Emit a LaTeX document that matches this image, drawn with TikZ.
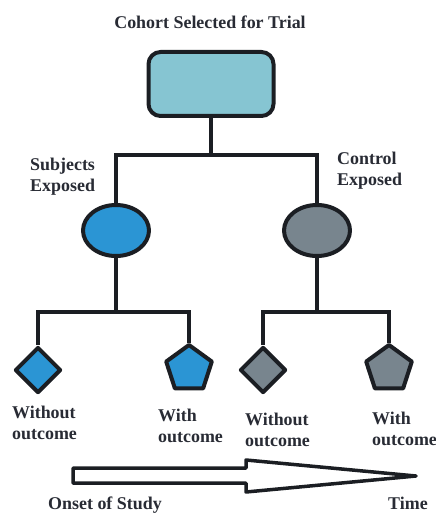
\documentclass[tikz,border=0pt]{standalone}
\usepackage{fontspec}
\setmainfont{Liberation Serif}
\usetikzlibrary{shapes.geometric}

\definecolor{ink}{RGB}{27,30,35}
\definecolor{txt}{RGB}{40,43,52}
\definecolor{cohortfill}{RGB}{134,197,210}
\definecolor{expfill}{RGB}{43,149,212}
\definecolor{ctlfill}{RGB}{120,133,142}

\tikzset{
  outline/.style={draw=ink, line width=4bp, line join=round},
  link/.style={draw=ink, line width=4bp, line cap=butt},
  label/.style={text=txt, font=\fontsize{18}{21}\selectfont\bfseries, inner sep=0pt, align=left},
  cohortbox/.style={outline, fill=cohortfill, rounded corners=12bp, minimum width=125bp, minimum height=64bp, inner sep=0pt},
  group/.style={outline, ellipse, minimum width=66bp, minimum height=51bp, inner sep=0pt},
  nooutcome/.style={outline, diamond, minimum width=46bp, minimum height=46bp, inner sep=0pt},
  withoutcome/.style={outline, regular polygon, regular polygon sides=5, minimum size=48bp, inner sep=0pt},
}

\begin{document}
\begin{tikzpicture}[x=1bp, y=-1bp]
  \useasboundingbox (0,0) rectangle (436,513);

  % title and cohort box
  \node[label, anchor=center] (title) at (210,22) {Cohort Selected for Trial};
  \node[cohortbox] (cohort) at (211,84) {};

  % exposure groups
  \node[group, fill=expfill] (subj) at (116,230.5) {};
  \node[group, fill=ctlfill] (ctrl) at (317,230.5) {};
  \node[label, anchor=west] (subjlbl) at (30,176.5) {Subjects\\Exposed};
  \node[label, anchor=west] (ctrllbl) at (337,171) {Control\\Exposed};

  % outcomes
  \node[nooutcome, fill=expfill] (sno) at (38,370) {};
  \node[withoutcome, fill=expfill] (syes) at (189,369) {};
  \node[nooutcome, fill=ctlfill] (cno) at (263,370) {};
  \node[withoutcome, fill=ctlfill] (cyes) at (389,369) {};

  \node[label, anchor=west] (snolbl) at (12,422.5) {Without\\outcome};
  \node[label, anchor=west] (syeslbl) at (158,425.5) {With\\outcome};
  \node[label, anchor=west] (cnolbl) at (245,430) {Without\\outcome};
  \node[label, anchor=west] (cyeslbl) at (372,429) {With\\outcome};

  % branch junctions
  \coordinate (j0) at (211,155);
  \coordinate (js) at (116,312);
  \coordinate (jc) at (317,312);

  % tree connectors
  \draw[link] (cohort.south) -- (j0);
  \draw[link] (subj.north) -- (subj.north |- j0) -- (ctrl.north |- j0) -- (ctrl.north);
  \draw[link] (subj.south) -- (js);
  \draw[link] (sno.north) -- (sno.north |- js) -- (syes.corner 1 |- js) -- (syes.corner 1);
  \draw[link] (ctrl.south) -- (jc);
  \draw[link] (cno.north) -- (cno.north |- jc) -- (cyes.corner 1 |- jc) -- (cyes.corner 1);

  % time arrow
  \coordinate (ttip) at (416,476);
  \draw[draw=ink, line width=3.5bp, line join=round, fill=white]
    (73,468) -- (246,468) -- (246,460) -- (ttip) -- (246,492) -- (246,483) -- (73,483) -- cycle;
  \node[label, anchor=west] (onset) at (48,505) {Onset of Study};
  \node[label, anchor=west] (time) at (388,503) {Time};
\end{tikzpicture}
\end{document}
